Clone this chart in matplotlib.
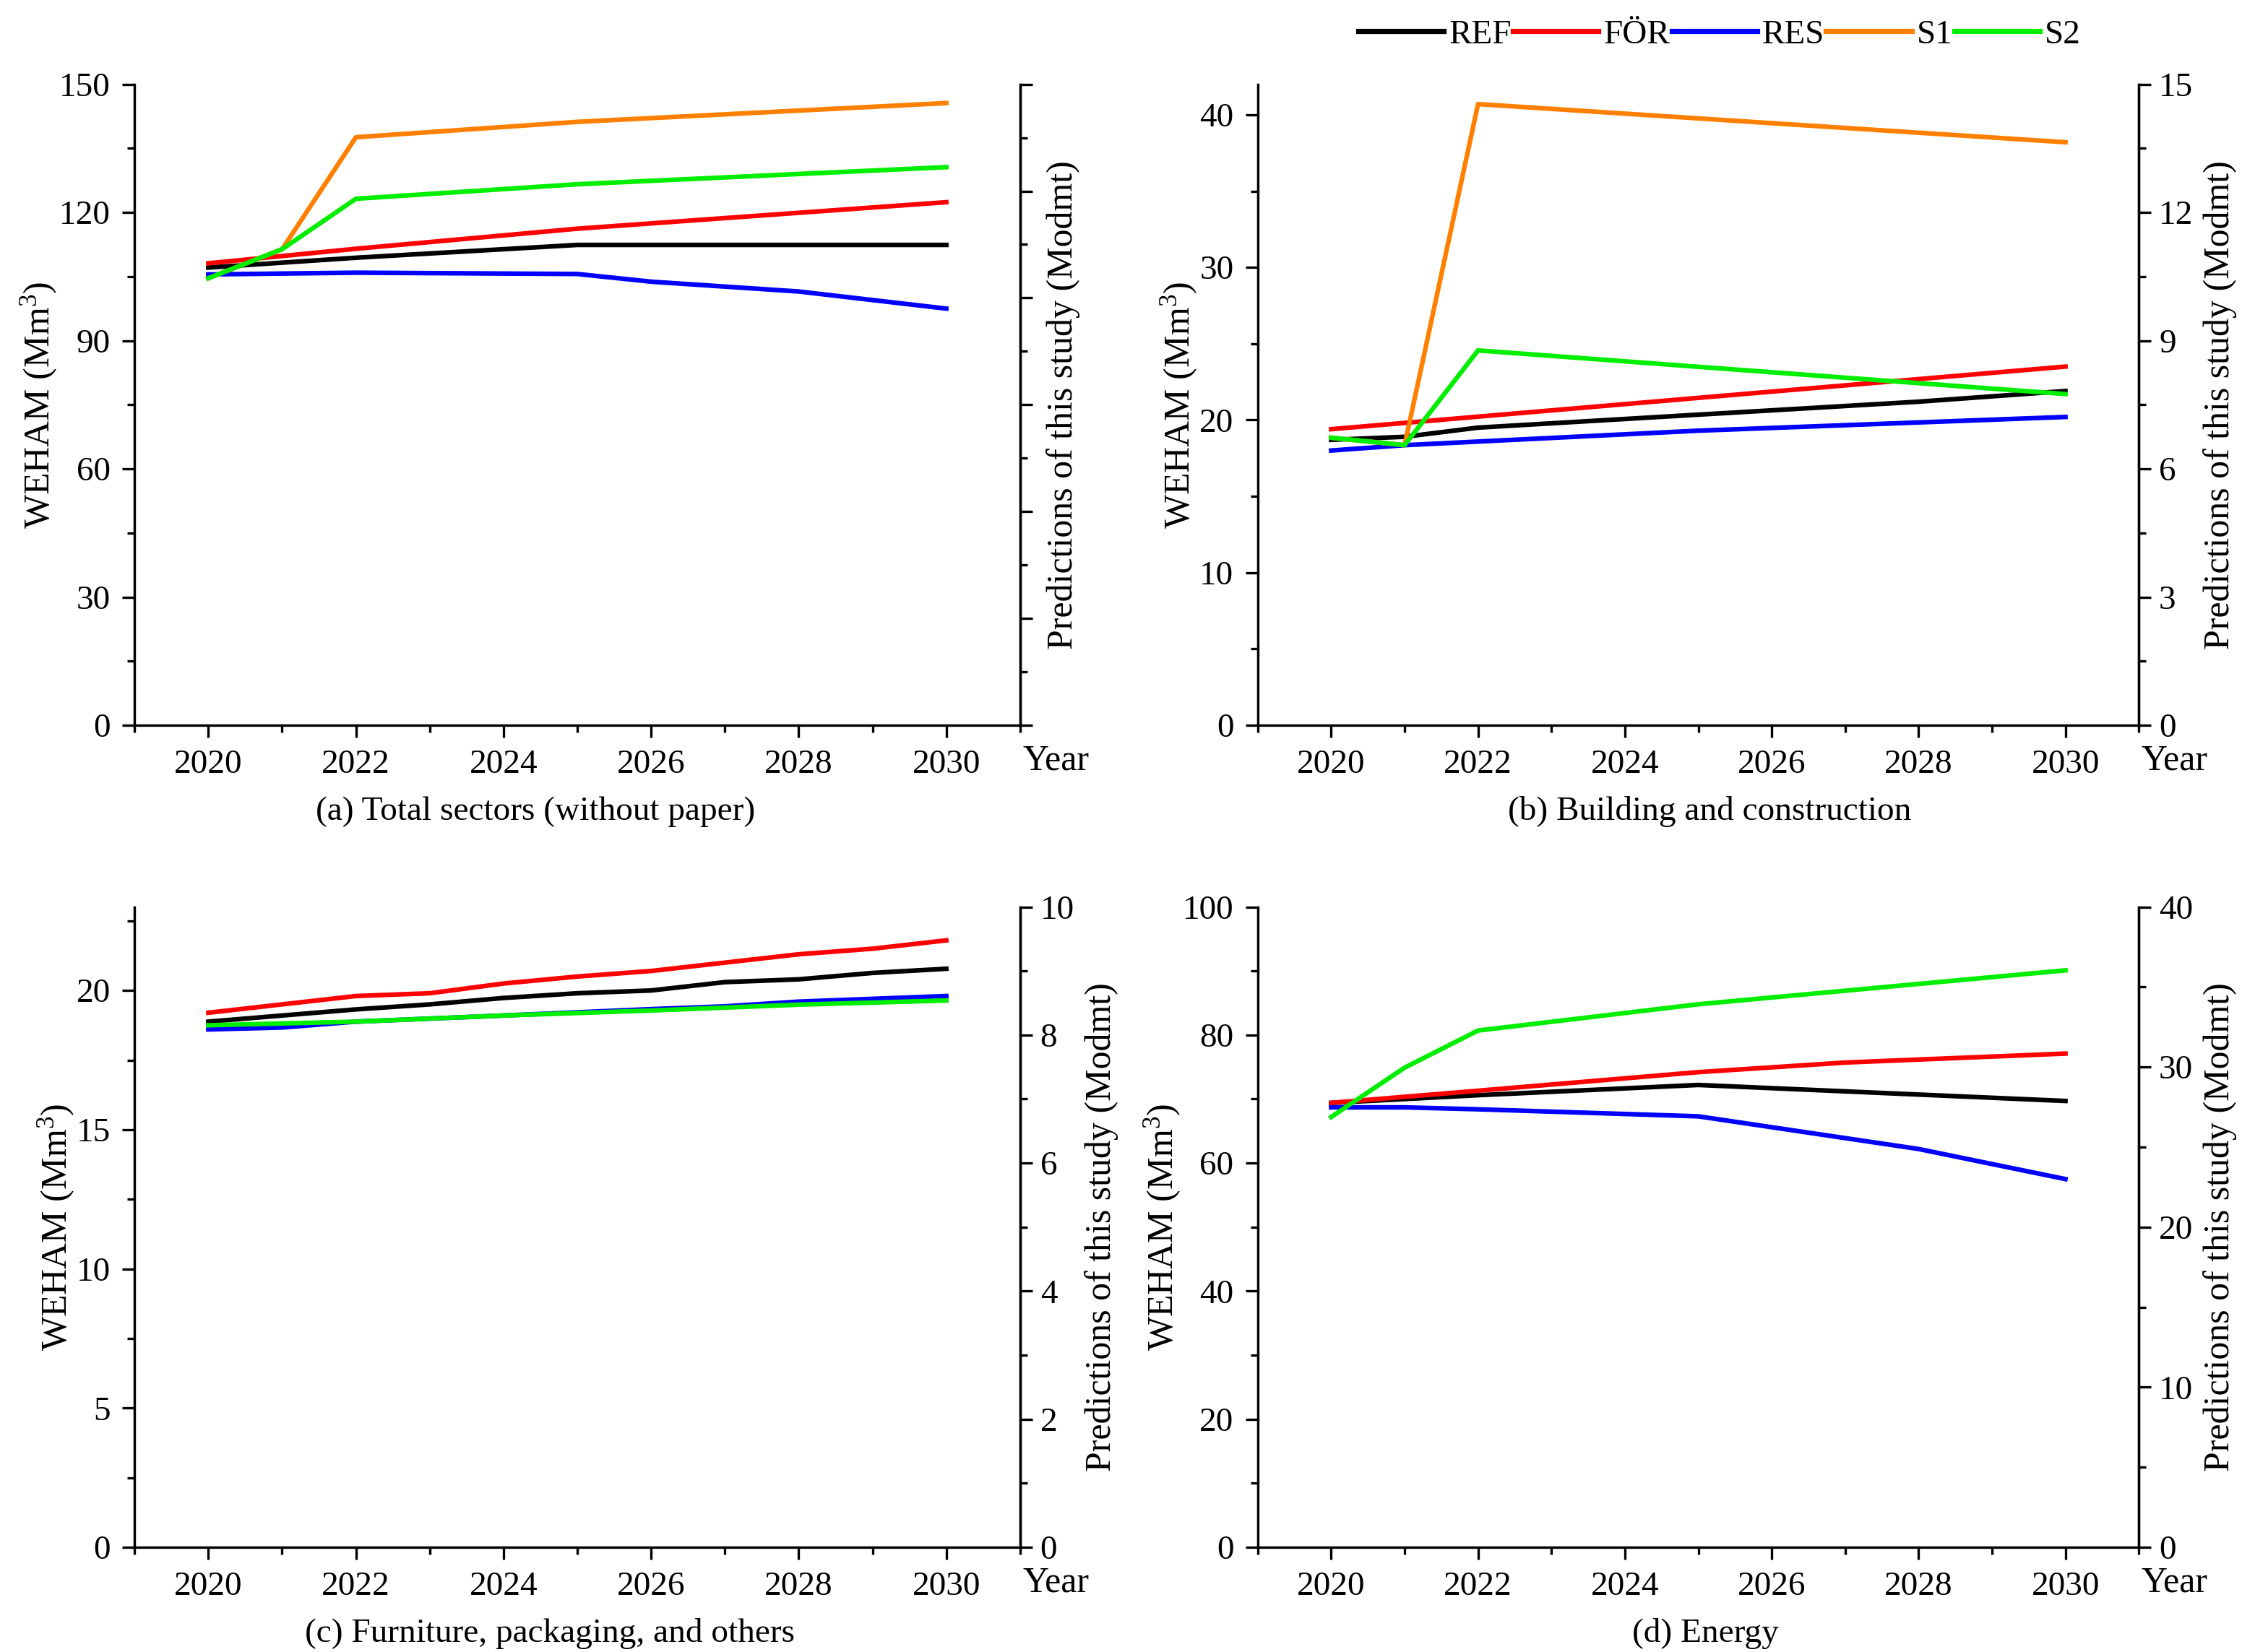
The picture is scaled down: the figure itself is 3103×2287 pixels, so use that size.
import numpy as np
import matplotlib
matplotlib.use("Agg")
import matplotlib.pyplot as plt
from matplotlib.ticker import MultipleLocator, NullFormatter
from matplotlib.lines import Line2D

plt.rcParams['font.family'] = ['Liberation Serif', 'DejaVu Serif']
plt.rcParams['mathtext.fontset'] = 'custom'
plt.rcParams['mathtext.rm'] = 'Liberation Serif'
plt.rcParams['mathtext.it'] = 'Liberation Serif:italic'

# --- Data (left axis units) ---
names = ['REF', 'FÖR', 'RES', 'S1', 'S2']
colors = {'REF': 'black', 'FÖR': '#ff0000', 'RES': '#0000ff', 'S1': '#ff8000', 'S2': '#00ee00'}

# (a) Total sectors (without paper)
a_ref_x = [2020, 2022, 2025, 2030]
a_ref_y = [107.1, 109.4, 112.4, 112.4]
a_for_x = [2020, 2022, 2025, 2030]
a_for_y = [108.1, 111.5, 116.2, 122.4]
a_res_x = [2020, 2022, 2025, 2026, 2028, 2030]
a_res_y = [105.5, 105.9, 105.6, 103.8, 101.5, 97.5]
a_s1_x = [2020, 2021, 2022, 2025, 2030]
a_s1_y = [104.6, 111.4, 137.6, 141.2, 145.6]
a_s2_x = [2020, 2021, 2022, 2025, 2030]
a_s2_y = [104.6, 111.4, 123.2, 126.6, 130.6]

# (b) Building and construction
b_ref_x = [2020, 2021, 2022, 2025, 2028, 2030]
b_ref_y = [18.7, 18.9, 19.5, 20.35, 21.2, 21.9]
b_for_x = [2020, 2030]
b_for_y = [19.4, 23.5]
b_res_x = [2020, 2021, 2025, 2030]
b_res_y = [18.0, 18.35, 19.3, 20.2]
b_s1_x = [2020, 2021, 2022, 2030]
b_s1_y = [18.84, 18.35, 40.7, 38.2]
b_s2_x = [2020, 2021, 2022, 2030]
b_s2_y = [18.84, 18.35, 24.56, 21.7]

# (c) Furniture, packaging, and others
c_ref_x = [2020, 2022, 2023, 2024, 2025, 2026, 2027, 2028, 2029, 2030]
c_ref_y = [18.88, 19.32, 19.5, 19.73, 19.9, 20.0, 20.3, 20.4, 20.63, 20.78]
c_for_x = [2020, 2022, 2023, 2024, 2025, 2026, 2027, 2028, 2029, 2030]
c_for_y = [19.2, 19.8, 19.9, 20.25, 20.5, 20.7, 21.0, 21.3, 21.5, 21.8]
c_res_x = [2020, 2021, 2022, 2024, 2026, 2027, 2028, 2030]
c_res_y = [18.6, 18.67, 18.88, 19.1, 19.33, 19.43, 19.6, 19.8]
c_s2_x = [2020, 2022, 2024, 2026, 2028, 2030]
c_s2_y = [18.75, 18.88, 19.1, 19.28, 19.49, 19.64]

# (d) Energy
d_ref_x = [2020, 2022, 2025, 2030]
d_ref_y = [69.4, 70.6, 72.2, 69.7]
d_for_x = [2020, 2022, 2025, 2027, 2030]
d_for_y = [69.4, 71.3, 74.2, 75.7, 77.1]
d_res_x = [2020, 2021, 2022, 2025, 2027, 2028, 2030]
d_res_y = [68.7, 68.7, 68.4, 67.3, 63.9, 62.2, 57.5]
d_s2_x = [2020, 2021, 2022, 2025, 2030]
d_s2_y = [67.2, 74.9, 80.7, 84.8, 90.1]

panels = [
    {'series': [('REF', a_ref_x, a_ref_y), ('FÖR', a_for_x, a_for_y), ('RES', a_res_x, a_res_y),
                ('S1', a_s1_x, a_s1_y), ('S2', a_s2_x, a_s2_y)],
     'ylim': (0, 150), 'major': 30, 'minor': 15,
     'rlim': (0, 12), 'rmajor': 2, 'rminor': 1, 'rlabels': False,
     'title': '(a) Total sectors (without paper)', 'tx': 0.453},
    {'series': [('REF', b_ref_x, b_ref_y), ('FÖR', b_for_x, b_for_y), ('RES', b_res_x, b_res_y),
                ('S1', b_s1_x, b_s1_y), ('S2', b_s2_x, b_s2_y)],
     'ylim': (0, 42), 'major': 10, 'minor': 5,
     'rlim': (0, 15), 'rmajor': 3, 'rminor': 1.5, 'rlabels': True,
     'title': '(b) Building and construction', 'tx': 0.513},
    {'series': [('REF', c_ref_x, c_ref_y), ('FÖR', c_for_x, c_for_y), ('RES', c_res_x, c_res_y),
                ('S2', c_s2_x, c_s2_y)],
     'ylim': (0, 23), 'major': 5, 'minor': 2.5,
     'rlim': (0, 10), 'rmajor': 2, 'rminor': 1, 'rlabels': True,
     'title': '(c) Furniture, packaging, and others', 'tx': 0.469},
    {'series': [('REF', d_ref_x, d_ref_y), ('FÖR', d_for_x, d_for_y), ('RES', d_res_x, d_res_y),
                ('S2', d_s2_x, d_s2_y)],
     'ylim': (0, 100), 'major': 20, 'minor': 10,
     'rlim': (0, 40), 'rmajor': 10, 'rminor': 5, 'rlabels': True,
     'title': '(d) Energy', 'tx': 0.508},
]

positions = [
    [0.060, 0.561, 0.395, 0.388],
    [0.561, 0.561, 0.393, 0.388],
    [0.060, 0.0634, 0.395, 0.3876],
    [0.561, 0.0634, 0.393, 0.3876],
]

fs = 17
fig = plt.figure(figsize=(15.515, 11.435), dpi=200)

for p, pos in zip(panels, positions):
    ax = fig.add_axes(pos)
    for name, xs, ys in p['series']:
        ax.plot(xs, ys, color=colors[name], lw=2.3, zorder=3)
    ax.set_xlim(2019, 2031)
    ax.set_ylim(*p['ylim'])
    ax.xaxis.set_major_locator(MultipleLocator(2))
    ax.xaxis.set_minor_locator(MultipleLocator(1))
    ax.yaxis.set_major_locator(MultipleLocator(p['major']))
    ax.yaxis.set_minor_locator(MultipleLocator(p['minor']))
    ax.spines['top'].set_visible(False)
    for s in ['left', 'bottom', 'right']:
        ax.spines[s].set_linewidth(1.2)
    ax.tick_params(which='major', direction='out', length=6, width=1.2, labelsize=fs, pad=6)
    ax.tick_params(which='minor', direction='out', length=3.5, width=1.2)
    ax.set_ylabel('WEHAM (Mm$^3$)', fontsize=fs + 1, labelpad=0)

    ax2 = ax.twinx()
    ax2.set_ylim(*p['rlim'])
    ax2.spines['top'].set_visible(False)
    ax2.spines['right'].set_linewidth(1.2)
    ax2.yaxis.set_major_locator(MultipleLocator(p['rmajor']))
    ax2.yaxis.set_minor_locator(MultipleLocator(p['rminor']))
    ax2.tick_params(which='major', direction='out', length=6, width=1.2, labelsize=fs, pad=4)
    ax2.tick_params(which='minor', direction='out', length=3.5, width=1.2)
    if not p['rlabels']:
        ax2.yaxis.set_major_formatter(NullFormatter())
    ax2.set_ylabel('Predictions of this study (Modmt)', fontsize=fs + 1,
                   labelpad=5 if p['rlabels'] else 3)

    ax.text(1.003, -0.055, 'Year', transform=ax.transAxes, fontsize=fs + 1,
            ha='left', va='center')
    ax.text(p['tx'], -0.135, p['title'], transform=ax.transAxes, fontsize=fs,
            ha='center', va='center')

handles = [Line2D([], [], color=colors[n], lw=2.6) for n in names]
fig.legend(handles, names, loc='center', bbox_to_anchor=(0.767, 0.979), ncol=5,
           frameon=False, fontsize=fs, handlelength=2.5, handletextpad=0.15,
           columnspacing=0.05)

fig.savefig('out.png', dpi=200)
